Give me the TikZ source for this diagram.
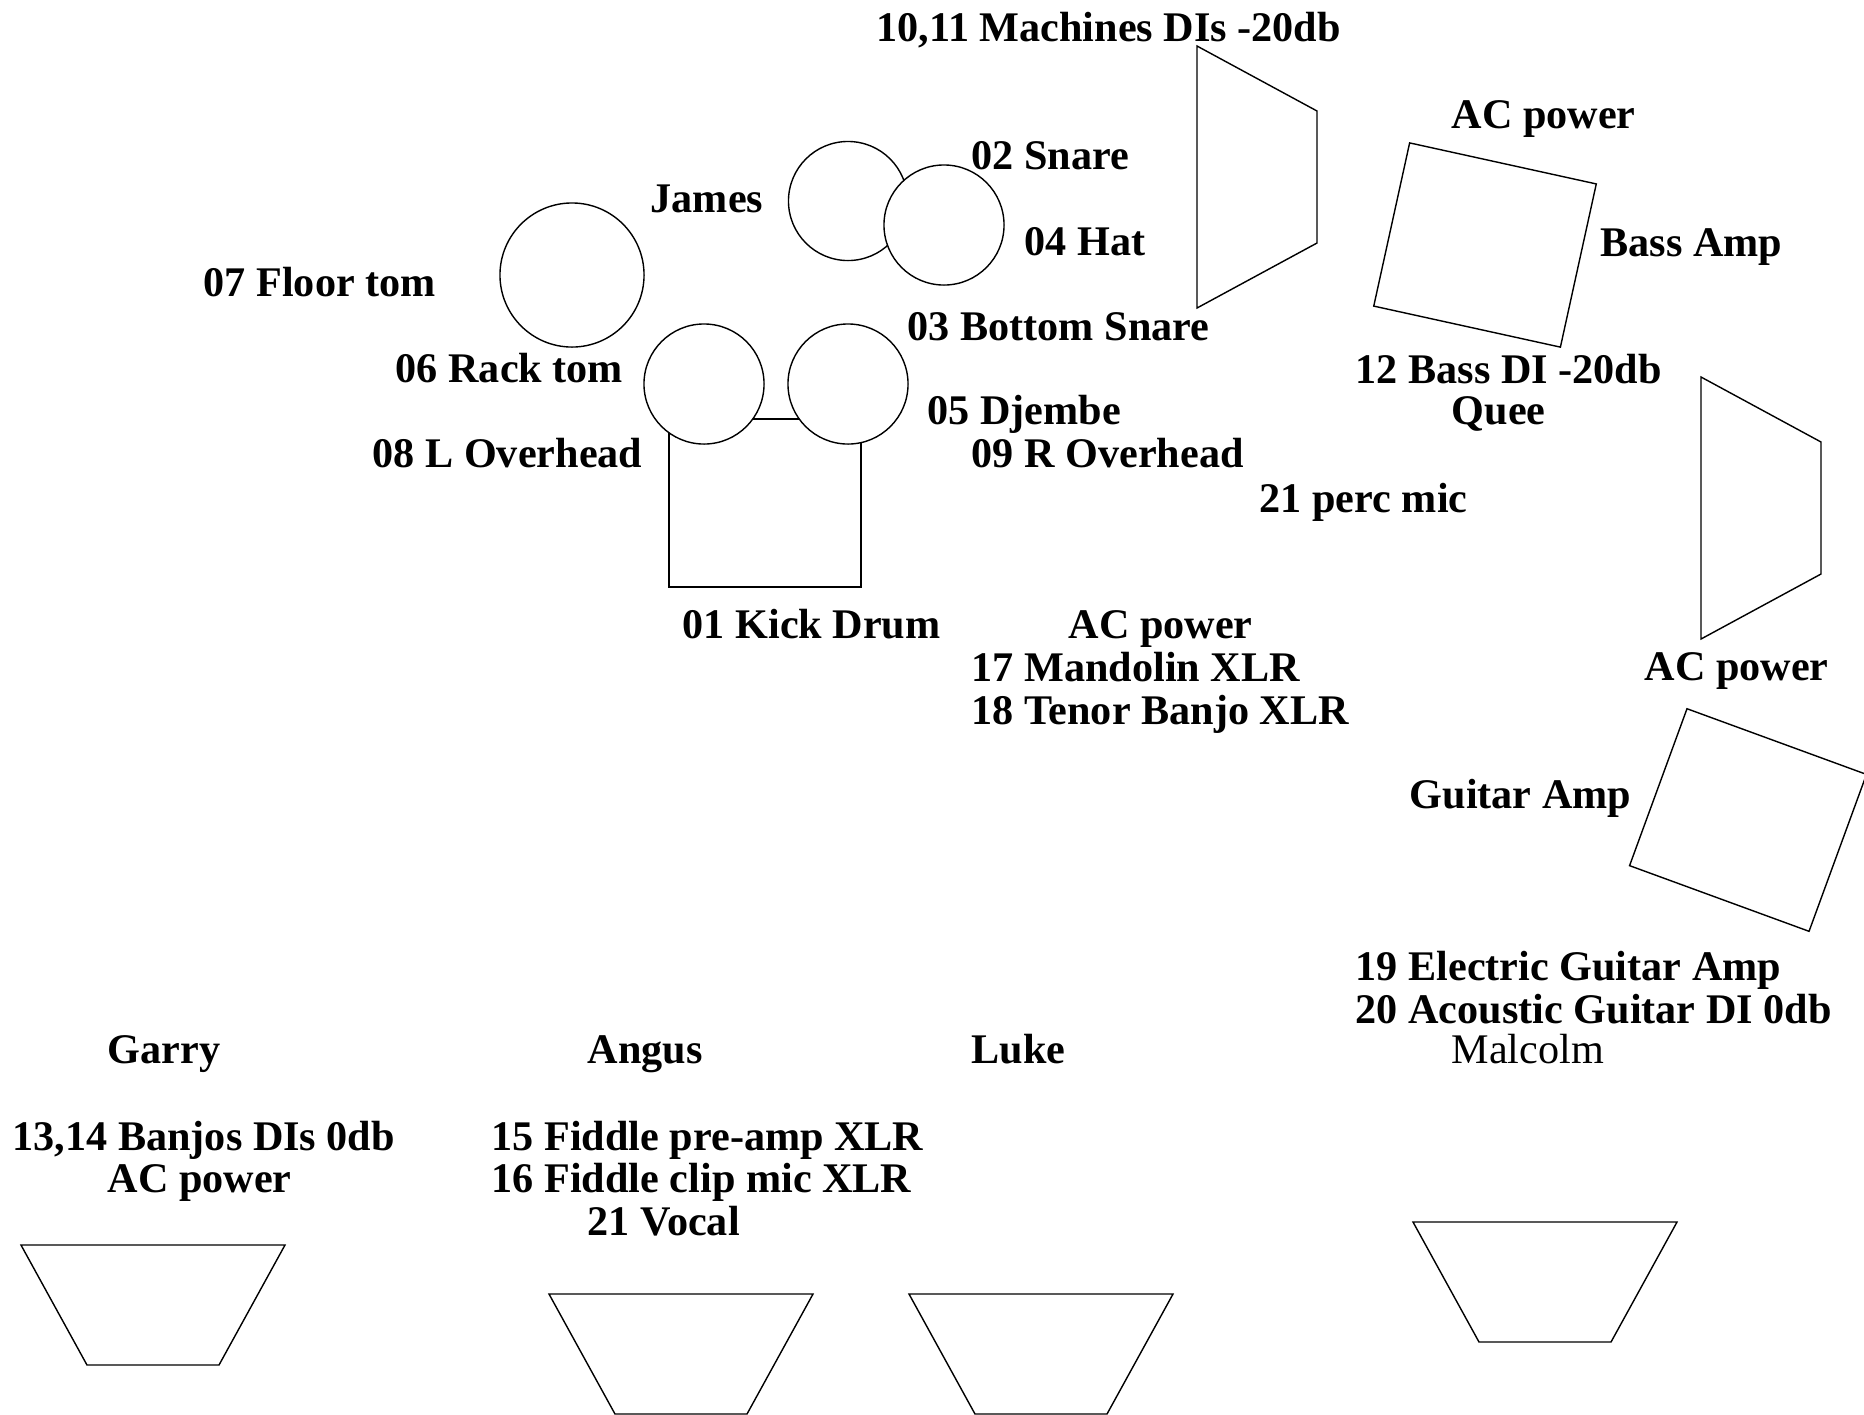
\documentclass[tikz,border=0pt]{standalone}
\usepackage{fontspec}
\setmainfont{Liberation Serif}
\begin{document}
\begin{tikzpicture}[x=0.01cm,y=-0.01cm,
   lbl/.style={anchor=base west,inner sep=0pt,font=\fontsize{12}{12}\selectfont\bfseries},
   drum/.style={circle,draw,fill=white,inner sep=0pt,minimum size=1.2cm},
   amp/.style={draw,inner sep=0pt,minimum width=1.91cm,minimum height=1.67cm}]
   \useasboundingbox (0,0) rectangle (1864,1414);
   % kit
   \node[draw,inner sep=0pt,minimum width=1.92cm,minimum height=1.68cm] (kick) at (765,503) {};
   \node[drum,minimum size=1.44cm] (floor) at (572,275) {};
   \node[drum,minimum size=1.19cm] (hat) at (848,201) {};
   \node[drum] (snare) at (944,225) {};
   \node[drum] (rack) at (704,384) {};
   \node[drum] (djembe) at (848,384) {};
   % amps and wedges
   \node[amp,rotate=-12.4] (bassamp) at (1485,245) {};
   \node[amp,rotate=-20.1] (gtramp) at (1748,820) {};
   \draw (1197,46) -- ++(120,65) -- ++(0,132) -- ++(-120,65) -- cycle;
   \draw (1701,377) -- ++(120,65) -- ++(0,132) -- ++(-120,65) -- cycle;
   \foreach \x/\y in {21/1245, 549/1294, 909/1294, 1413/1222}
     \draw (\x,\y) -- ++(264,0) -- ++(-66,120) -- ++(-132,0) -- cycle;
   % labels
   \foreach \x/\y/\t [count=\i] in
     { 876/41/{10,11 Machines DIs -20db},
       650/212/{James},
       971/169/{02 Snare},
      1024/255/{04 Hat},
       907/340/{03 Bottom Snare},
       203/296/{07 Floor tom},
       395/382/{06 Rack tom},
       372/467/{08 L Overhead},
       682/638/{01 Kick Drum},
       927/424/{05 Djembe},
       971/467/{09 R Overhead},
      1259/512/{21 perc mic},
      1451/128/{AC power},
      1600/256/{Bass Amp},
      1355/383/{12 Bass DI -20db},
      1451/424/{Quee},
      1644/680/{AC power},
      1068/638/{AC power},
       971/681/{17 Mandolin XLR},
       971/724/{18 Tenor Banjo XLR},
      1409/808/{Guitar Amp},
      1355/980/{19 Electric Guitar Amp},
      1355/1023/{20 Acoustic Guitar DI 0db},
       971/1063/{Luke},
       107/1063/{Garry},
       587/1063/{Angus},
        12/1150/{13,14 Banjos DIs 0db},
       107/1192/{AC power},
       491/1150/{15 Fiddle pre-amp XLR},
       491/1192/{16 Fiddle clip mic XLR},
       587/1235/{21 Vocal}
     }
     \node[lbl] (t\i) at (\x,\y) {\t};
   \node[lbl,font=\fontsize{12}{12}\selectfont] (malcolm) at (1451,1063) {Malcolm};
\end{tikzpicture}
\end{document}
